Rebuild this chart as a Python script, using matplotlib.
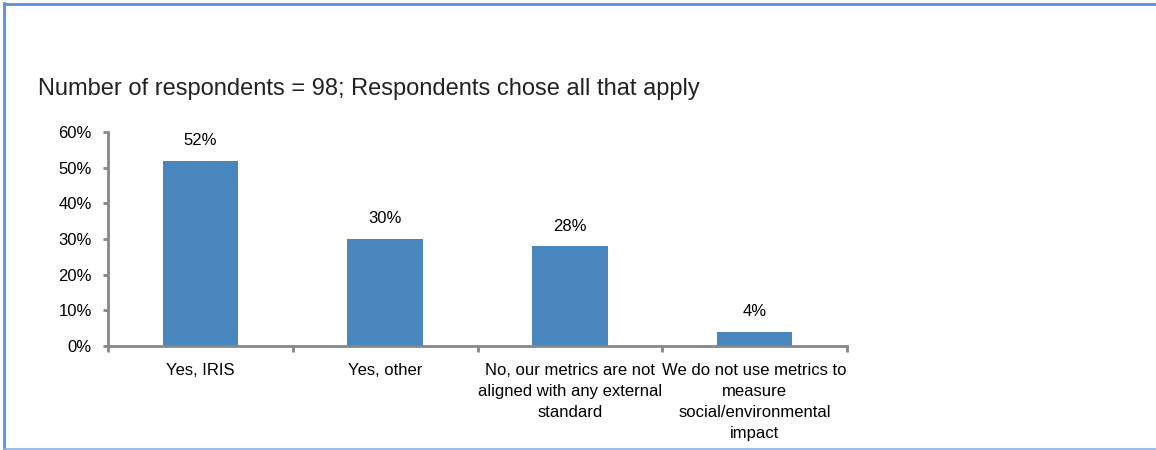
import matplotlib
matplotlib.use("Agg")
import matplotlib.pyplot as plt
from matplotlib.lines import Line2D
from matplotlib.ticker import FixedLocator, PercentFormatter

categories = [
    "Yes, IRIS",
    "Yes, other",
    "No, our metrics are not\naligned with any external\nstandard",
    "We do not use metrics to\nmeasure\nsocial/environmental\nimpact",
]
values = [52, 30, 28, 4]
title = "Number of respondents = 98; Respondents chose all that apply"

plt.rcParams['font.family'] = ['Liberation Sans', 'DejaVu Sans']

W, H = 1156, 450
fig = plt.figure(figsize=(W / 100, H / 100), dpi=100)
fig.patch.set_facecolor('white')

# border lines
fig.add_artist(Line2D([4 / W, 4 / W], [0, 1 - 3 / H], transform=fig.transFigure,
                      color='#5B8FD8', lw=2))
fig.add_artist(Line2D([4 / W, 1], [1 - 3.5 / H, 1 - 3.5 / H], transform=fig.transFigure,
                      color='#5B8FD8', lw=2))
fig.add_artist(Line2D([4 / W, 1], [0.8 / H, 0.8 / H], transform=fig.transFigure,
                      color='#8AB0E0', lw=1.2))

ax = fig.add_axes([108 / W, 1 - 346 / H, (847 - 108) / W, (346 - 132) / H])
x = list(range(len(categories)))
bars = ax.bar(x, values, width=0.41, color='#4A86BE', zorder=2)
ax.set_xlim(-0.5, len(categories) - 0.5)
ax.set_ylim(0, 60)
ax.yaxis.set_major_locator(FixedLocator([0, 10, 20, 30, 40, 50, 60]))
ax.yaxis.set_major_formatter(PercentFormatter(decimals=0))

for s in ['top', 'right']:
    ax.spines[s].set_visible(False)
for s in ['left', 'bottom']:
    ax.spines[s].set_color('#878787')
    ax.spines[s].set_linewidth(2)

ax.set_xticks([i - 0.5 for i in range(len(categories) + 1)])
ax.set_xticklabels([])
ax.set_xticks(x, minor=True)
ax.set_xticklabels(categories, minor=True, fontsize=12, linespacing=1.5, va='top')
ax.tick_params(axis='x', which='major', length=4, width=2, color='#878787', direction='out')
ax.tick_params(axis='x', which='minor', length=0, pad=12)
ax.tick_params(axis='y', length=3.6, width=2, color='#878787', labelsize=12, pad=8)

for b, v in zip(bars, values):
    ax.annotate(f"{v}%", (b.get_x() + b.get_width() / 2, v), xytext=(0, 9),
                textcoords='offset points', ha='center', va='bottom', fontsize=12)

fig.text(38 / W, 1 - 95 / H, title, fontsize=17, color='#222222', va='baseline', ha='left')

fig.savefig('out.png', dpi=100)
